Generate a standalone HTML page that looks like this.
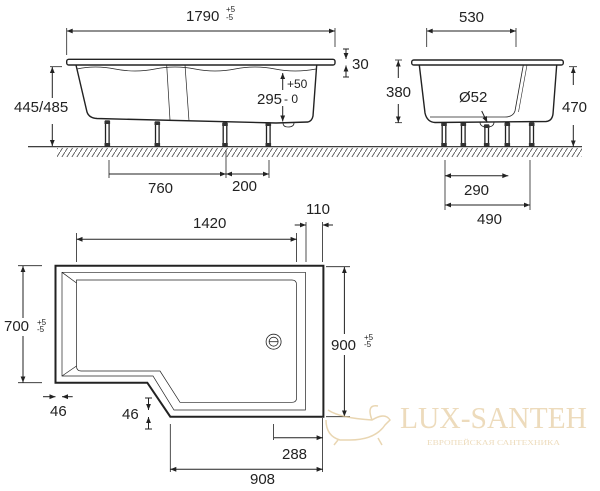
<!DOCTYPE html>
<html><head><meta charset="utf-8"><style>
html,body{margin:0;padding:0;background:#fff;}
svg{display:block;}
text{font-family:"Liberation Sans",sans-serif;fill:#222;}
</style></head><body>
<svg width="600" height="491" viewBox="0 0 600 491" xmlns="http://www.w3.org/2000/svg">
<defs>
<marker id="a" viewBox="0 0 10 10" refX="10" refY="5" markerWidth="7" markerHeight="6" orient="auto-start-reverse" markerUnits="userSpaceOnUse"><path d="M0,1 L10,5 L0,9 z" fill="#222"/></marker>
<pattern id="h" width="5" height="8" patternUnits="userSpaceOnUse"><path d="M5,0 L0,8" stroke="#444" stroke-width="0.8"/></pattern>
</defs>
<g stroke="#222" fill="none" stroke-width="1">
<line x1="28" y1="146.7" x2="380" y2="146.7" stroke-width="1.2"/>
<rect x="57" y="148" width="323" height="9" fill="url(#h)" stroke="none"/>
<rect x="66.7" y="59.3" width="268.3" height="5.7" rx="2" stroke-width="1.4"/>
<path d="M76,65 L87,112 Q89,118 97,118.5 L276,123 L308,122 Q312,121 313,116 L316.7,65" stroke-width="1.4"/>
<path d="M77,69 Q95,65 115,69 T155,69 T195,69 T235,69 T275,69 T316,69" stroke-width="0.7"/>
<path d="M166.7,65 L170,120 M185,65 L189,121" stroke-width="0.7"/>
<path d="M283,123 Q283,127 288,127 Q294,127 294,123" stroke-width="0.8"/>
<g stroke-width="1.3">
<rect x="105.5" y="121" width="3.6" height="25" fill="#fff"/><rect x="155.5" y="122" width="3.6" height="24" fill="#fff"/>
<rect x="223.2" y="123" width="3.6" height="23" fill="#fff"/><rect x="266.5" y="123" width="3.6" height="23" fill="#fff"/>
</g>
<g fill="#333" stroke="none">
<rect x="104.5" y="121" width="5.6" height="3"/><rect x="104.5" y="143" width="5.6" height="3.5"/>
<rect x="154.5" y="122" width="5.6" height="3"/><rect x="154.5" y="143" width="5.6" height="3.5"/>
<rect x="222.2" y="123" width="5.6" height="3"/><rect x="222.2" y="143" width="5.6" height="3.5"/>
<rect x="265.5" y="123" width="5.6" height="3"/><rect x="265.5" y="143" width="5.6" height="3.5"/>
</g>
<line x1="66.7" y1="28" x2="66.7" y2="55" stroke-width="0.8"/><line x1="335" y1="28" x2="335" y2="47" stroke-width="0.8"/>
<line x1="66.7" y1="31" x2="335" y2="31" marker-start="url(#a)" marker-end="url(#a)"/>
<line x1="346" y1="49" x2="346" y2="59" marker-end="url(#a)"/><line x1="346" y1="77" x2="346" y2="65.5" marker-end="url(#a)"/>
<line x1="343" y1="49" x2="349" y2="49"/><line x1="343" y1="77" x2="349" y2="77"/>
<line x1="50" y1="66.7" x2="62" y2="66.7" stroke-width="0.8"/>
<line x1="52.3" y1="98" x2="52.3" y2="67" marker-end="url(#a)"/>
<line x1="52.3" y1="124" x2="52.3" y2="146" marker-end="url(#a)"/>
<line x1="282.7" y1="90" x2="282.7" y2="73" marker-end="url(#a)"/>
<line x1="282.7" y1="106" x2="282.7" y2="121.5" marker-end="url(#a)"/>
<line x1="109" y1="160" x2="109" y2="178" stroke-width="0.8"/><line x1="226" y1="150" x2="226" y2="178" stroke-width="0.8"/><line x1="269" y1="160" x2="269" y2="178" stroke-width="0.8"/>
<line x1="109" y1="174" x2="226" y2="174" marker-end="url(#a)"/>
<line x1="226" y1="174" x2="269" y2="174" marker-start="url(#a)" marker-end="url(#a)"/>

<line x1="380" y1="146.7" x2="582" y2="146.7" stroke-width="1.2"/>
<rect x="380" y="148" width="202" height="9" fill="url(#h)" stroke="none"/>
<rect x="411.7" y="60" width="151.6" height="5" rx="2" stroke-width="1.4"/>
<path d="M419.3,65 L425,113 Q427,122 435,122.5 L546,121.5 Q552,121 553,114 L556.7,65" stroke-width="1.4"/>
<path d="M523.3,65 L515,111 Q513,117 505,117 L430,117" stroke-width="0.8"/>
<path d="M527,65 L518.5,112" stroke-width="0.6"/>
<path d="M480,122 Q480,127 487,127 Q494,127 494,122" stroke-width="0.8"/>
<g stroke-width="1.3">
<rect x="442.2" y="123" width="3.6" height="23" fill="#fff"/><rect x="461.5" y="123" width="3.6" height="23" fill="#fff"/>
<rect x="484.9" y="125" width="3.6" height="21" fill="#fff"/><rect x="505.5" y="123" width="3.6" height="23" fill="#fff"/>
<rect x="529.9" y="123" width="3.6" height="23" fill="#fff"/>
</g>
<g fill="#333" stroke="none">
<rect x="441.2" y="123" width="5.6" height="3"/><rect x="441.2" y="143" width="5.6" height="3.5"/>
<rect x="460.5" y="123" width="5.6" height="3"/><rect x="460.5" y="143" width="5.6" height="3.5"/>
<rect x="483.9" y="125" width="5.6" height="3"/><rect x="483.9" y="143" width="5.6" height="3.5"/>
<rect x="504.5" y="123" width="5.6" height="3"/><rect x="504.5" y="143" width="5.6" height="3.5"/>
<rect x="528.9" y="123" width="5.6" height="3"/><rect x="528.9" y="143" width="5.6" height="3.5"/>
</g>
<line x1="426.7" y1="28" x2="426.7" y2="47" stroke-width="0.8"/><line x1="516" y1="28" x2="516" y2="47" stroke-width="0.8"/>
<line x1="426.7" y1="31" x2="516" y2="31" marker-start="url(#a)" marker-end="url(#a)"/>
<line x1="395" y1="60" x2="402" y2="60" stroke-width="0.8"/><line x1="395" y1="122.7" x2="402" y2="122.7" stroke-width="0.8"/>
<line x1="398.3" y1="78" x2="398.3" y2="60.5" marker-end="url(#a)"/>
<line x1="398.3" y1="104" x2="398.3" y2="122.5" marker-end="url(#a)"/>
<line x1="569" y1="66.7" x2="577" y2="66.7" stroke-width="0.8"/>
<line x1="573.3" y1="85" x2="573.3" y2="67" marker-end="url(#a)"/>
<line x1="573.3" y1="125" x2="573.3" y2="146.5" marker-end="url(#a)"/>
<line x1="481.7" y1="111" x2="487.3" y2="122.5" marker-end="url(#a)"/>
<line x1="445" y1="160" x2="445" y2="210" stroke-width="0.8"/><line x1="530" y1="160" x2="530" y2="210" stroke-width="0.8"/>
<line x1="445" y1="175.7" x2="508.3" y2="175.7" marker-start="url(#a)" marker-end="url(#a)"/>
<line x1="445" y1="205" x2="530" y2="205" marker-start="url(#a)" marker-end="url(#a)"/>

<path d="M55.5,265.7 L323.4,265.7 L323.4,416.7 L170.3,416.7 L147.3,382.7 L55.5,382.7 Z" stroke-width="2"/>
<path d="M62,272.3 L305.4,272.3 L305.4,410 L174,410 L153,376 L62,376 Z" stroke-width="0.7"/>
<path d="M76.5,280 L292,280 Q296.6,280 296.6,285 L296.6,398 Q296.6,402.3 292,402.3 L180,402.3 L160,371 L81,371 Q76.5,371 76.5,366 Z" stroke-width="0.7"/>
<path d="M62,272.3 L76.5,283 M62,376 L76.5,366" stroke-width="0.7"/>
<circle cx="273.6" cy="341.7" r="7.5" stroke-width="0.8"/><circle cx="273.6" cy="341.7" r="4.5" stroke-width="0.8"/>
<line x1="269" y1="341.7" x2="278.2" y2="341.7" stroke-width="0.8"/>
<line x1="76.5" y1="233" x2="76.5" y2="262" stroke-width="0.8"/><line x1="296.6" y1="233" x2="296.6" y2="262" stroke-width="0.8"/>
<line x1="76.5" y1="239.3" x2="296.6" y2="239.3" marker-start="url(#a)" marker-end="url(#a)"/>
<line x1="306" y1="222" x2="306" y2="262" stroke-width="0.8"/><line x1="322.6" y1="222" x2="322.6" y2="262" stroke-width="0.8"/>
<line x1="294.7" y1="225" x2="306" y2="225" marker-end="url(#a)"/>
<line x1="333" y1="225" x2="322.6" y2="225" marker-end="url(#a)"/>
<line x1="18" y1="265.7" x2="42" y2="265.7" stroke-width="0.8"/><line x1="18" y1="382.7" x2="42" y2="382.7" stroke-width="0.8"/>
<line x1="23" y1="318" x2="23" y2="266" marker-end="url(#a)"/>
<line x1="23" y1="336" x2="23" y2="382.5" marker-end="url(#a)"/>
<line x1="326" y1="266.7" x2="350" y2="266.7" stroke-width="0.8"/><line x1="326" y1="416.7" x2="350" y2="416.7" stroke-width="0.8"/>
<line x1="344.4" y1="334" x2="344.4" y2="267" marker-end="url(#a)"/>
<line x1="344.4" y1="355" x2="344.4" y2="416.5" marker-end="url(#a)"/>
<line x1="43" y1="396.7" x2="55.5" y2="396.7" marker-end="url(#a)"/>
<line x1="72.7" y1="396.7" x2="62" y2="396.7" marker-end="url(#a)"/>
<line x1="148.5" y1="398" x2="148.5" y2="410" marker-end="url(#a)"/>
<line x1="148.5" y1="429" x2="148.5" y2="417" marker-end="url(#a)"/>
<line x1="145" y1="398" x2="152" y2="398"/><line x1="145" y1="429" x2="152" y2="429"/>
<line x1="273.6" y1="424" x2="273.6" y2="440" stroke-width="0.8"/>
<line x1="322.6" y1="418" x2="322.6" y2="472" stroke-width="0.8"/>
<line x1="170.3" y1="424" x2="170.3" y2="472" stroke-width="0.8"/>
<line x1="273.6" y1="437.7" x2="322.6" y2="437.7" marker-end="url(#a)"/>
<line x1="170.3" y1="469.3" x2="322.6" y2="469.3" marker-start="url(#a)" marker-end="url(#a)"/>
</g>

<g font-size="15">
<text x="186" y="21">1790</text><text x="226" y="12" font-size="8">+5</text><text x="226" y="20" font-size="8">-5</text>
<text x="352" y="69">30</text>
<text x="14" y="112" font-size="15">445/485</text>
<text x="257" y="104">295</text><text x="287" y="88" font-size="12">+50</text><text x="284" y="103" font-size="12">- 0</text>
<text x="148" y="193">760</text><text x="232" y="191">200</text>
<text x="459" y="22">530</text>
<text x="386" y="97">380</text>
<text x="562" y="112">470</text>
<text x="459" y="102">Ø52</text>
<text x="464" y="195">290</text><text x="477" y="224">490</text>
<text x="193" y="228">1420</text>
<text x="306" y="214">110</text>
<text x="4" y="331">700</text><text x="37" y="325" font-size="8">+5</text><text x="37" y="332" font-size="8">-5</text>
<text x="331" y="350">900</text><text x="364" y="340" font-size="8">+5</text><text x="364" y="347" font-size="8">-5</text>
<text x="50" y="416">46</text>
<text x="122" y="419">46</text>
<text x="282" y="459">288</text>
<text x="250" y="484">908</text>
</g>
<g opacity="0.75">
<path d="M328,410 Q340,418 372,420 Q385,412 390,420 L385,425 Q375,440 350,440 L340,440 Q326,436 326,420 M338,440 L334,445 M378,438 L382,445 M372,420 Q366,404 378,406" stroke="#e2c898" fill="none" stroke-width="1.5"/>
<text x="400" y="428" textLength="187" lengthAdjust="spacingAndGlyphs" style="font-family:'Liberation Serif',serif;font-size:31px;fill:#e7d0a6">LUX-SANTEH</text>
<text x="427" y="445" textLength="133" lengthAdjust="spacingAndGlyphs" style="font-family:'Liberation Serif',serif;font-size:7px;fill:#e7d0a6">ЕВРОПЕЙСКАЯ САНТЕХНИКА</text>
</g>
</svg>
</body></html>
